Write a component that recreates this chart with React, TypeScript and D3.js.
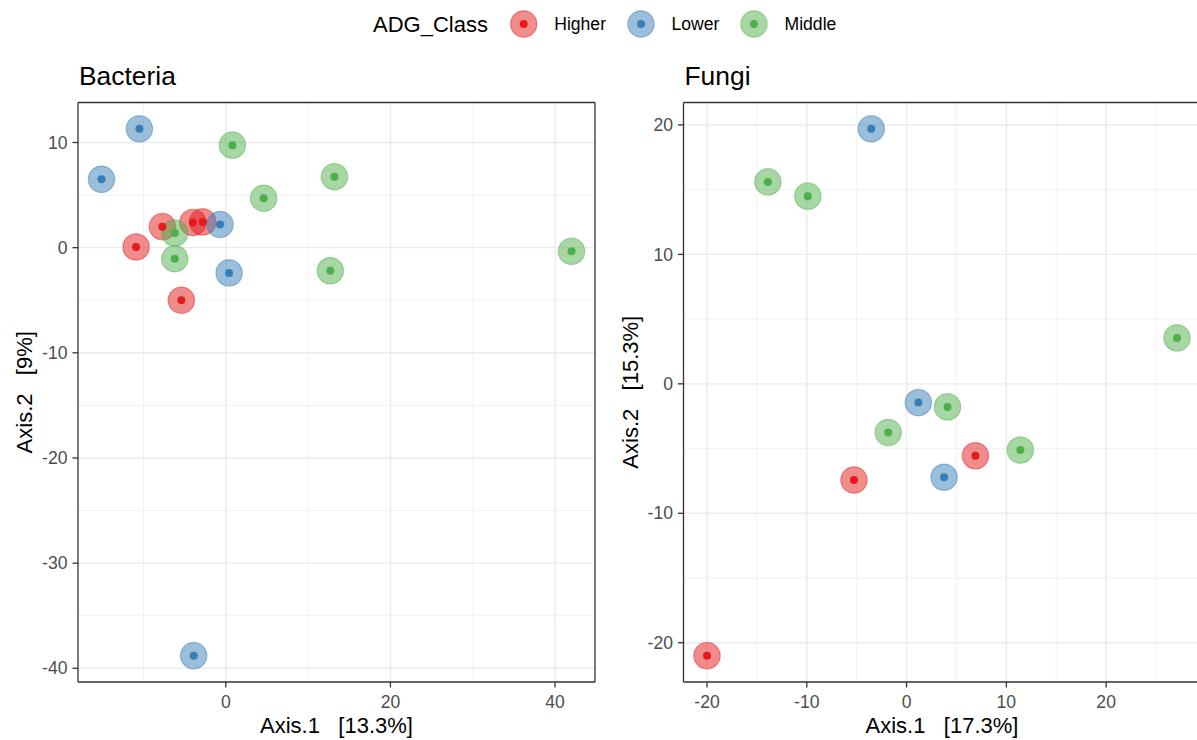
import React from "react";
import * as d3 from "d3";

// ---- Data ----
const classNames = ["Higher", "Lower", "Middle"];
const classColors = ["#E41A1C", "#377EB8", "#4DAF4A"];

// Bacteria PCoA
const bacteriaAxis1 = [-7.7, -4.0, -2.8, -10.9, -5.4, -10.5, -15.1, -0.7, 0.4, -3.9, 0.8, 13.2, 4.6, -6.2, -6.2, 12.7, 42.0];
const bacteriaAxis2 = [2.0, 2.4, 2.45, 0.07, -5.0, 11.3, 6.5, 2.2, -2.4, -38.8, 9.75, 6.75, 4.7, 1.4, -1.05, -2.2, -0.35];
const bacteriaClass = ["Higher", "Higher", "Higher", "Higher", "Higher", "Lower", "Lower", "Lower", "Lower", "Lower", "Middle", "Middle", "Middle", "Middle", "Middle", "Middle", "Middle"];
const bacteriaXTicks = [0, 20, 40];
const bacteriaXMinor = [-10, 10, 30];
const bacteriaYTicks = [10, 0, -10, -20, -30, -40];
const bacteriaYMinor = [5, -5, -15, -25, -35];

// Fungi PCoA
const fungiAxis1 = [6.9, -5.27, -20.0, -3.54, 1.18, 3.76, -13.9, -9.9, 27.1, 4.1, -1.84, 11.4];
const fungiAxis2 = [-5.56, -7.43, -21.0, 19.7, -1.45, -7.22, 15.6, 14.5, 3.55, -1.78, -3.76, -5.12];
const fungiClass = ["Higher", "Higher", "Higher", "Lower", "Lower", "Lower", "Middle", "Middle", "Middle", "Middle", "Middle", "Middle"];
const fungiXTicks = [-20, -10, 0, 10, 20];
const fungiXMinor = [-15, -5, 5, 15, 25];
const fungiYTicks = [20, 10, 0, -10, -20];
const fungiYMinor = [15, 5, -5, -15];

const FONT = "'Liberation Sans', Arial, Helvetica, sans-serif";
const colorScale = d3.scaleOrdinal<string, string>().domain(classNames).range(classColors);

const CANVAS_W = 1197;
const CANVAS_H = 740;

function expanded(vals: number[]): [number, number] {
  const [lo, hi] = d3.extent(vals) as [number, number];
  const pad = (hi - lo) * 0.05;
  return [lo - pad, hi + pad];
}

type PanelProps = {
  title: string;
  xLabel: string;
  yLabel: string;
  xs: number[];
  ys: number[];
  cls: string[];
  xTicks: number[];
  xMinor: number[];
  yTicks: number[];
  yMinor: number[];
  left: number;
  width: number;
};

const TOP = 102.5;
const BOTTOM = 682;

function Panel(p: PanelProps) {
  const right = p.left + p.width;
  const x = d3.scaleLinear().domain(expanded(p.xs)).range([p.left, right]);
  const y = d3.scaleLinear().domain(expanded(p.ys)).range([BOTTOM, TOP]);
  const pts = p.xs.map((v, i) => ({ x: v, y: p.ys[i], c: p.cls[i] }));
  const cy = (TOP + BOTTOM) / 2;
  const cx = (p.left + right) / 2;
  const showRight = right < CANVAS_W;
  return (
    <g>
      <rect x={p.left} y={TOP} width={p.width} height={BOTTOM - TOP} fill="#FFFFFF" />
      {p.xMinor.map((t) => (
        <line key={"xm" + t} x1={x(t)} x2={x(t)} y1={TOP} y2={BOTTOM} stroke="#EFEFEF" strokeWidth={0.8} />
      ))}
      {p.yMinor.map((t) => (
        <line key={"ym" + t} x1={p.left} x2={right} y1={y(t)} y2={y(t)} stroke="#EFEFEF" strokeWidth={0.8} />
      ))}
      {p.xTicks.map((t) => (
        <line key={"xg" + t} x1={x(t)} x2={x(t)} y1={TOP} y2={BOTTOM} stroke="#EBEBEB" strokeWidth={1.4} />
      ))}
      {p.yTicks.map((t) => (
        <line key={"yg" + t} x1={p.left} x2={right} y1={y(t)} y2={y(t)} stroke="#EBEBEB" strokeWidth={1.4} />
      ))}
      {pts.map((d, i) => (
        <circle
          key={"o" + i}
          cx={x(d.x)}
          cy={y(d.y)}
          r={13.2}
          fill={colorScale(d.c)}
          fillOpacity={0.5}
          stroke={colorScale(d.c)}
          strokeOpacity={0.45}
          strokeWidth={1.2}
        />
      ))}
      {pts.map((d, i) => (
        <circle key={"i" + i} cx={x(d.x)} cy={y(d.y)} r={4} fill={colorScale(d.c)} />
      ))}
      <line x1={p.left} x2={right} y1={TOP} y2={TOP} stroke="#333333" strokeWidth={1.3} />
      <line x1={p.left} x2={right} y1={BOTTOM} y2={BOTTOM} stroke="#333333" strokeWidth={1.3} />
      <line x1={p.left} x2={p.left} y1={TOP} y2={BOTTOM} stroke="#333333" strokeWidth={1.3} />
      {showRight && <line x1={right} x2={right} y1={TOP} y2={BOTTOM} stroke="#333333" strokeWidth={1.3} />}
      {p.xTicks.map((t) => (
        <g key={"xt" + t}>
          <line x1={x(t)} x2={x(t)} y1={BOTTOM} y2={BOTTOM + 5.5} stroke="#333333" strokeWidth={1.3} />
          <text x={x(t)} y={708} textAnchor="middle" fontSize={17.6} fill="#4D4D4D" fontFamily={FONT}>
            {t}
          </text>
        </g>
      ))}
      {p.yTicks.map((t) => (
        <g key={"yt" + t}>
          <line x1={p.left - 5.5} x2={p.left} y1={y(t)} y2={y(t)} stroke="#333333" strokeWidth={1.3} />
          <text x={p.left - 10.5} y={y(t) + 6.2} textAnchor="end" fontSize={17.6} fill="#4D4D4D" fontFamily={FONT}>
            {t}
          </text>
        </g>
      ))}
      <text x={p.left + 1} y={85} fontSize={26.4} fill="#000000" fontFamily={FONT}>
        {p.title}
      </text>
      <text x={cx} y={733} textAnchor="middle" fontSize={22} fill="#000000" fontFamily={FONT} style={{ whiteSpace: "pre" }}>
        {p.xLabel}
      </text>
      <text
        transform={`translate(${p.left - 46},${cy}) rotate(-90)`}
        textAnchor="middle"
        fontSize={22}
        fill="#000000"
        fontFamily={FONT}
        style={{ whiteSpace: "pre" }}
      >
        {p.yLabel}
      </text>
    </g>
  );
}

function Legend() {
  const keyX = [523.7, 641, 754];
  return (
    <g>
      <text x={373} y={31.7} fontSize={22} fill="#000000" fontFamily={FONT}>
        ADG_Class
      </text>
      {classNames.map((c, i) => (
        <g key={c}>
          <circle cx={keyX[i]} cy={24} r={13.2} fill={colorScale(c)} fillOpacity={0.5} stroke={colorScale(c)} strokeOpacity={0.45} strokeWidth={1.2} />
          <circle cx={keyX[i]} cy={24} r={4} fill={colorScale(c)} />
          <text x={keyX[i] + 30.5} y={30.3} fontSize={17.6} fill="#000000" fontFamily={FONT}>
            {c}
          </text>
        </g>
      ))}
    </g>
  );
}

export default function App() {
  return (
    <svg
      width={CANVAS_W}
      height={CANVAS_H}
      style={{ position: "absolute", left: 0, top: 0, background: "#FFFFFF" }}
    >
      <rect x={0} y={0} width={CANVAS_W} height={CANVAS_H} fill="#FFFFFF" />
      <Legend />
      <Panel
        title="Bacteria"
        xLabel={"Axis.1   [13.3%]"}
        yLabel={"Axis.2   [9%]"}
        xs={bacteriaAxis1}
        ys={bacteriaAxis2}
        cls={bacteriaClass}
        xTicks={bacteriaXTicks}
        xMinor={bacteriaXMinor}
        yTicks={bacteriaYTicks}
        yMinor={bacteriaYMinor}
        left={78}
        width={517}
      />
      <Panel
        title="Fungi"
        xLabel={"Axis.1   [17.3%]"}
        yLabel={"Axis.2   [15.3%]"}
        xs={fungiAxis1}
        ys={fungiAxis2}
        cls={fungiClass}
        xTicks={fungiXTicks}
        xMinor={fungiXMinor}
        yTicks={fungiYTicks}
        yMinor={fungiYMinor}
        left={683.5}
        width={517}
      />
    </svg>
  );
}
